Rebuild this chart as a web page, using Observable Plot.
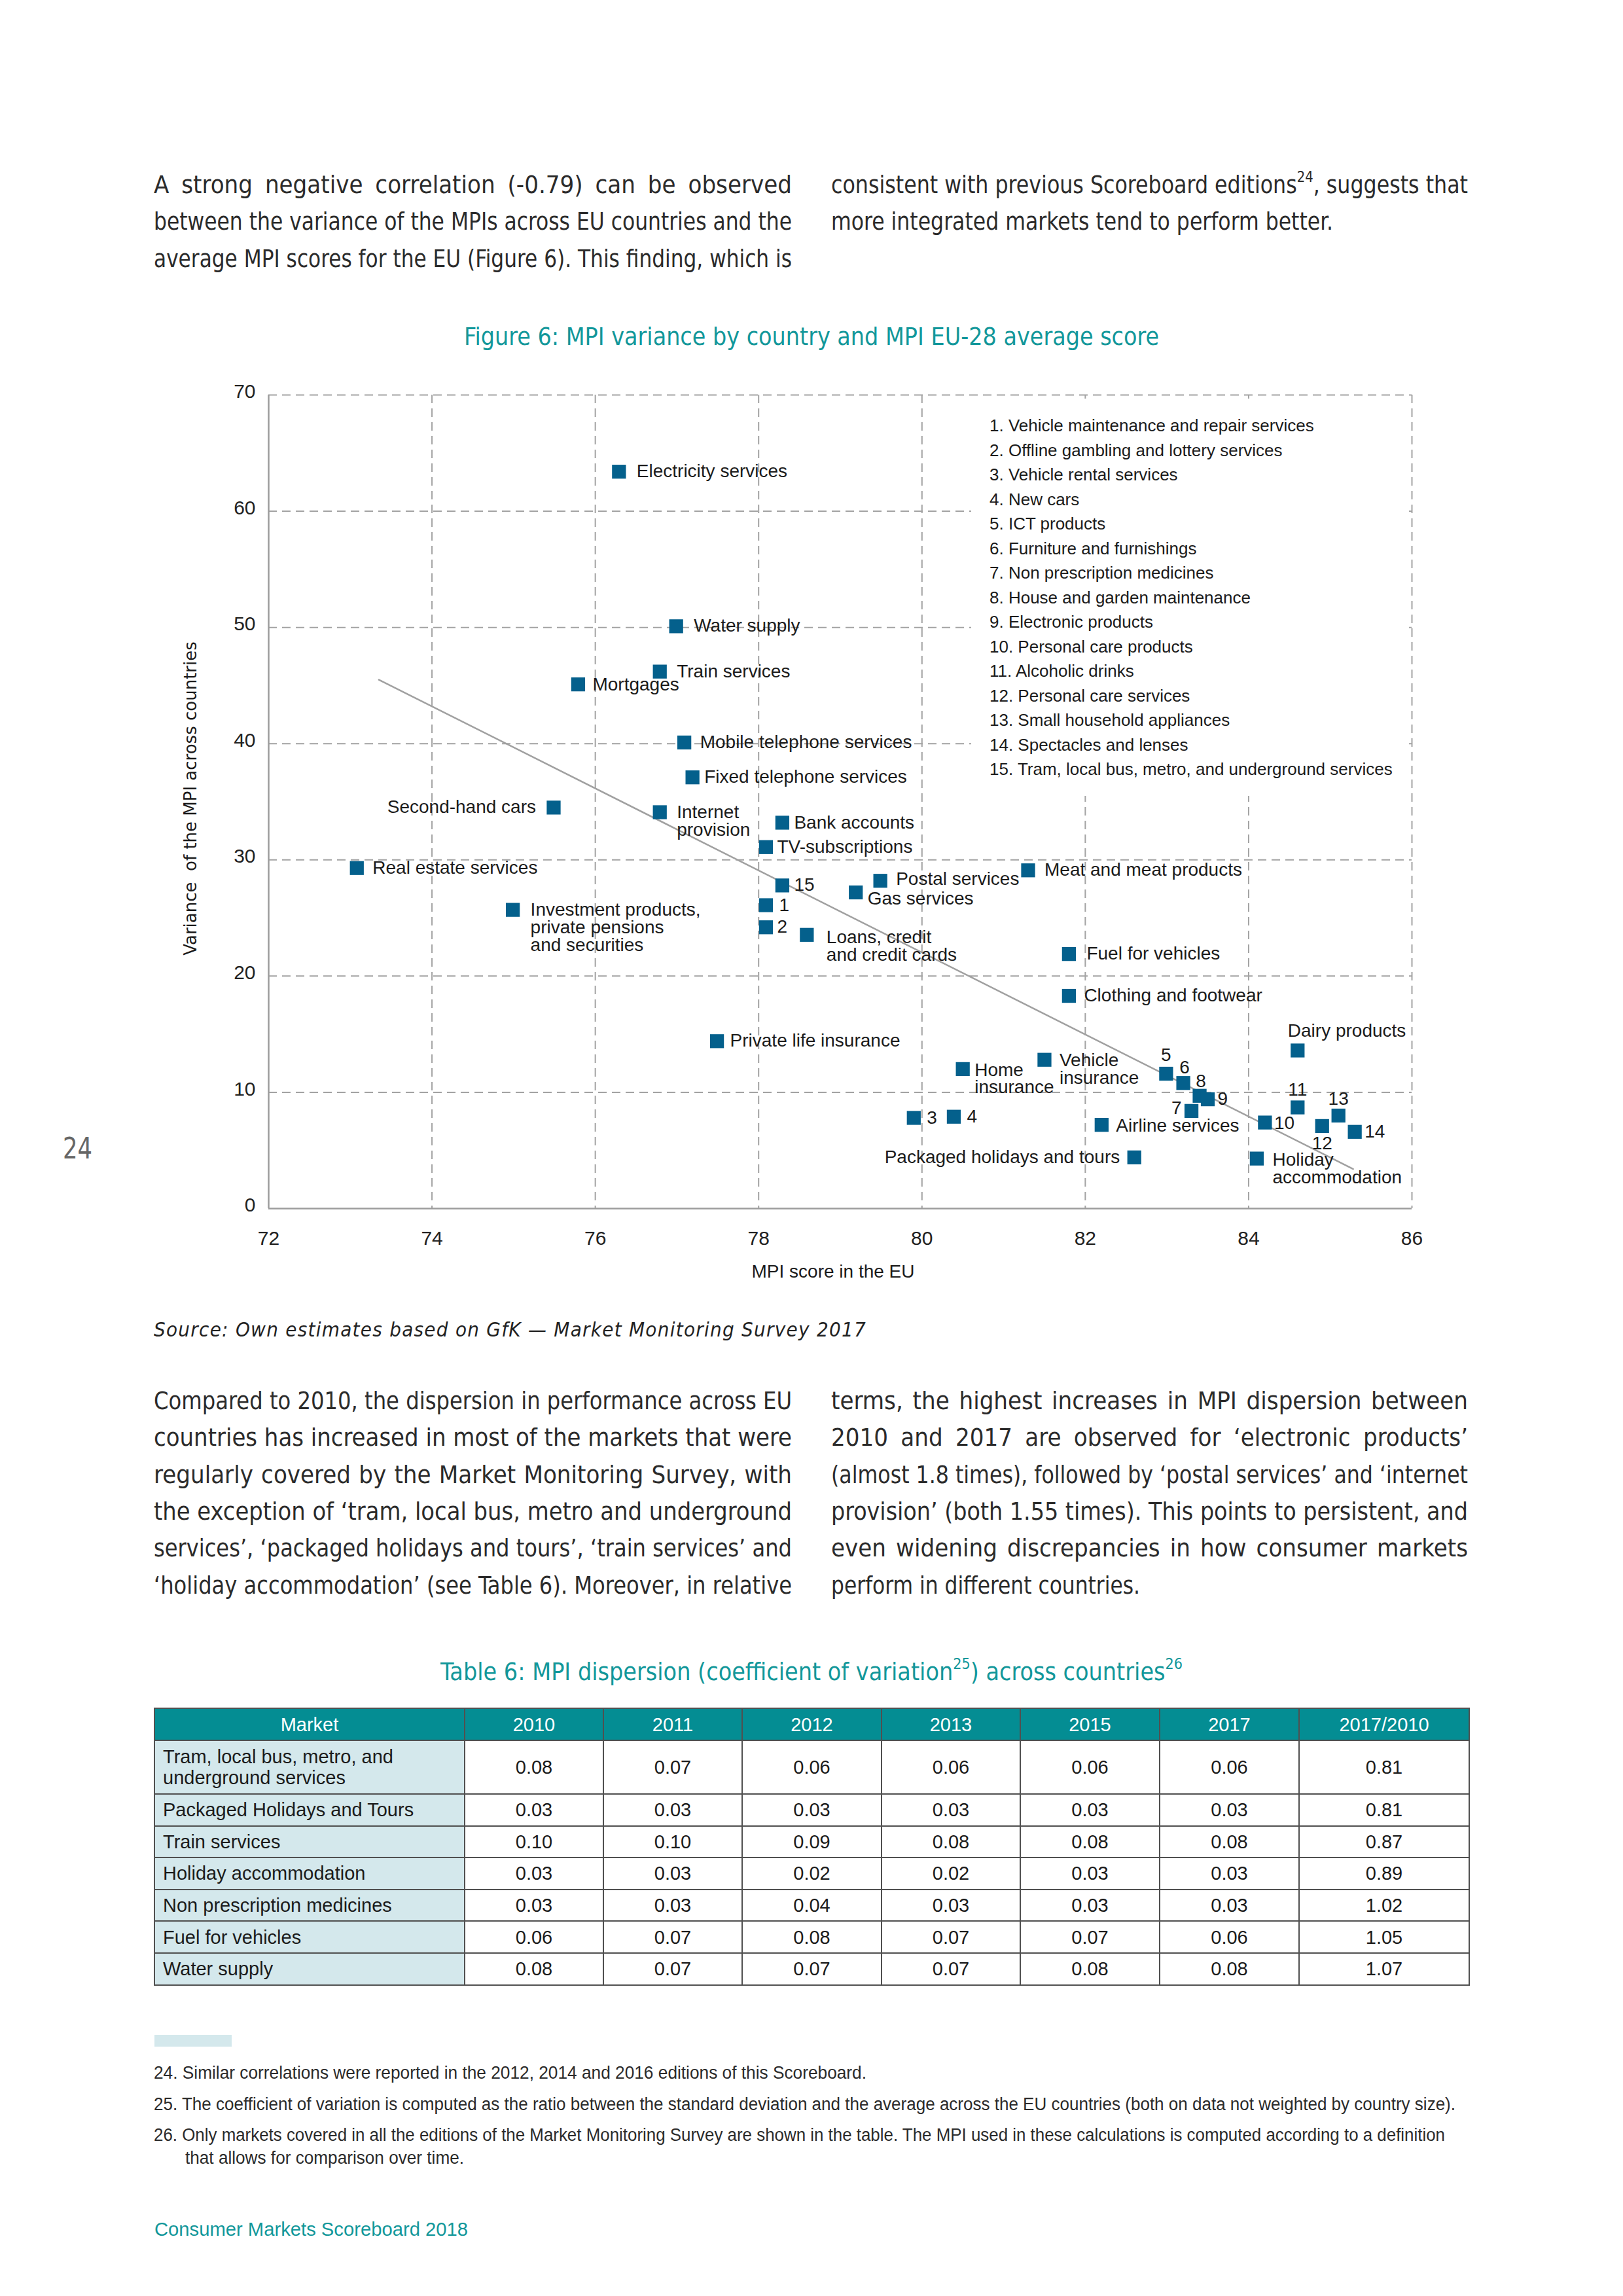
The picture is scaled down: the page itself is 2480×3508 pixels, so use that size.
<!DOCTYPE html>
<html><head><meta charset="utf-8">
<script src="https://cdn.jsdelivr.net/npm/d3@7"></script>
<script src="https://cdn.jsdelivr.net/npm/@observablehq/plot@0.6"></script>
<style>
html,body{margin:0;padding:0;background:#fff;}
#page{position:relative;width:2480px;height:3508px;overflow:hidden;background:#fff;
  font-family:"Liberation Sans Narrow","DejaVu Sans Condensed","Liberation Sans",sans-serif;color:#2b2b2b;}
.ln{position:absolute;white-space:nowrap;line-height:1;transform-origin:0 0;}
sup{font-size:0.62em;vertical-align:0;position:relative;top:-0.72em;line-height:0;}
#chart{position:absolute;left:0;top:560px;width:2480px;z-index:1;}
#legend{position:absolute;left:1484px;top:609px;width:669px;height:607px;background:#fff;z-index:2;
  font-family:"Liberation Sans",Arial,sans-serif;font-size:26px;line-height:37.5px;color:#1b1b1b;
  box-sizing:border-box;padding:23px 0 0 28px;}
#legend div{white-space:nowrap;}
#tbl{position:absolute;left:235px;top:2609px;border-collapse:collapse;table-layout:fixed;
  font-family:"Liberation Sans",Arial,sans-serif;font-size:29px;color:#1b1b1b;z-index:1;}
#tbl th,#tbl td{border:2px solid #505050;padding:0 12px;text-align:center;vertical-align:middle;line-height:32px;}
#tbl th{background:#048d93;color:#fff;font-weight:normal;}
#tbl td.m{background:#d4e8ec;text-align:left;}
#bar{position:absolute;left:236px;top:3109px;width:118px;height:18px;background:#d4e8ec;}
</style></head>
<body><div id="page"><div id="chart"></div><div id="legend"></div></div>
<script>
// ---------------- DATA ----------------
const xTicks = [72, 74, 76, 78, 80, 82, 84, 86];
const yTicks = [0, 10, 20, 30, 40, 50, 60, 70];

const marketNames = ["Electricity services","Water supply","Train services","Mortgages","Mobile telephone services",
  "Fixed telephone services","Second-hand cars","Internet provision","Bank accounts","TV-subscriptions",
  "Real estate services","Investment products, private pensions and securities","Postal services","Gas services",
  "Meat and meat products","Loans, credit and credit cards","Fuel for vehicles","Clothing and footwear",
  "Private life insurance","Dairy products","Home insurance","Vehicle insurance","Airline services",
  "Packaged holidays and tours","Holiday accommodation"];
const namedLabels = ["Electricity services","Water supply","Train services","Mortgages","Mobile telephone services",
  "Fixed telephone services","Second-hand cars","Internet\nprovision","Bank accounts","TV-subscriptions",
  "Real estate services","Investment products,\nprivate pensions\nand securities","Postal services","Gas services",
  "Meat and meat products","Loans, credit\nand credit cards","Fuel for vehicles","Clothing and footwear",
  "Private life insurance","Dairy products","Home\ninsurance","Vehicle\ninsurance","Airline services",
  "Packaged holidays and tours","Holiday\naccommodation"];
const mpiNamed = [76.29, 76.99, 76.79, 75.79, 77.09, 77.19, 75.49, 76.79, 78.29, 78.09, 73.08, 74.99, 79.49, 79.19,
  81.30, 78.59, 81.80, 81.80, 77.49, 84.60, 80.50, 81.50, 82.20, 82.60, 84.10];
const varNamed = [63.4, 50.1, 46.2, 45.1, 40.1, 37.1, 34.5, 34.1, 33.2, 31.1, 29.3, 25.7, 28.2, 27.2,
  29.1, 23.55, 21.9, 18.3, 14.4, 13.6, 12.0, 12.8, 7.2, 4.4, 4.3];

const numberedNames = ["Vehicle maintenance and repair services","Offline gambling and lottery services",
  "Vehicle rental services","New cars","ICT products","Furniture and furnishings","Non prescription medicines",
  "House and garden maintenance","Electronic products","Personal care products","Alcoholic drinks",
  "Personal care services","Small household appliances","Spectacles and lenses",
  "Tram, local bus, metro, and underground services"];
const mpiNumbered = [78.09, 78.09, 79.90, 80.39, 82.99, 83.20, 83.30, 83.40, 83.50, 84.20, 84.60, 84.90, 85.10, 85.30, 78.29];
const varNumbered = [26.1, 24.2, 7.8, 7.9, 11.6, 10.8, 8.4, 9.7, 9.4, 7.4, 8.7, 7.1, 8.0, 6.6, 27.8];

const trendMpi = [73.35, 85.28];
const trendVar = [45.5, 3.4];

const tableMarkets = ["Tram, local bus, metro, and underground services","Packaged Holidays and Tours","Train services",
  "Holiday accommodation","Non prescription medicines","Fuel for vehicles","Water supply"];
const tableYears = ["2010","2011","2012","2013","2015","2017","2017/2010"];
const v2010 = [0.08, 0.03, 0.10, 0.03, 0.03, 0.06, 0.08];
const v2011 = [0.07, 0.03, 0.10, 0.03, 0.03, 0.07, 0.07];
const v2012 = [0.06, 0.03, 0.09, 0.02, 0.04, 0.08, 0.07];
const v2013 = [0.06, 0.03, 0.08, 0.02, 0.03, 0.07, 0.07];
const v2015 = [0.06, 0.03, 0.08, 0.03, 0.03, 0.07, 0.08];
const v2017 = [0.06, 0.03, 0.08, 0.03, 0.03, 0.06, 0.08];
const ratio = [0.81, 0.81, 0.87, 0.89, 1.02, 1.05, 1.07];

// ---------------- label placement (style) ----------------
const placement = {
  "Electricity services":["start",27,0], "Water supply":["start",27,0], "Train services":["start",26,0],
  "Mortgages":["start",22,1], "Mobile telephone services":["start",24,0], "Fixed telephone services":["start",18,0],
  "Second-hand cars":["end",-27,0], "Internet\nprovision":["start",26,13.5], "Bank accounts":["start",18,0],
  "TV-subscriptions":["start",17,0], "Real estate services":["start",24,0],
  "Investment products,\nprivate pensions\nand securities":["start",27,27], "Postal services":["start",24,-2],
  "Gas services":["start",18,10], "Meat and meat products":["start",25,0], "Loans, credit\nand credit cards":["start",30,18],
  "Fuel for vehicles":["start",27,0], "Clothing and footwear":["start",23,0], "Private life insurance":["start",20,0],
  "Dairy products":["start",-15,-30], "Home\ninsurance":["start",18,15], "Vehicle\ninsurance":["start",23,15],
  "Airline services":["start",22,2], "Packaged holidays and tours":["end",-22,0], "Holiday\naccommodation":["start",24,16],
  "1":["start",20,0], "2":["start",17,0], "3":["start",20,0], "4":["start",20,0], "5":["middle",0,-28],
  "6":["middle",2,-23], "7":["end",-15,-4], "8":["middle",2,-22], "9":["start",15,0], "10":["start",14,1],
  "11":["middle",0,-27], "12":["middle",0,27], "13":["middle",0,-25], "14":["start",15,0], "15":["start",18,0]
};

// ---------------- CHART ----------------
const points = [
  ...marketNames.map((m, i) => ({name: m, label: namedLabels[i], x: mpiNamed[i], y: varNamed[i]})),
  ...numberedNames.map((m, i) => ({name: m, label: String(i + 1), x: mpiNumbered[i], y: varNumbered[i]}))
];
const trend = trendMpi.map((x, i) => ({x, y: trendVar[i]}));
const ink = "#1b1b1b";
const gridStyle = {stroke: "#a3a3a3", strokeWidth: 2, strokeDasharray: "13,8"};

const labelMarks = points.map(p => {
  const [a, dx, dy] = placement[p.label] || ["start", 20, 0];
  return Plot.text([p], {x: "x", y: "y", text: "label", textAnchor: a, dx, dy, fontSize: 28, lineHeight: 0.96, fill: ink});
});

const chart = Plot.plot({
  width: 2480, height: 1420,
  marginLeft: 410, marginRight: 323, marginTop: 43, marginBottom: 134,
  x: {domain: [xTicks[0], xTicks[xTicks.length - 1]]},
  y: {domain: [yTicks[0], yTicks[yTicks.length - 1]]},
  style: {fontFamily: "'Liberation Sans', Arial, sans-serif", fontSize: "28px", background: "transparent", color: ink, overflow: "visible"},
  marks: [
    Plot.ruleY(yTicks.slice(1), gridStyle),
    Plot.ruleX(xTicks.slice(1), gridStyle),
    Plot.ruleX(xTicks.slice(0, 1), {stroke: "#9c9c9c", strokeWidth: 2.5}),
    Plot.ruleY(yTicks.slice(0, 1), {stroke: "#9c9c9c", strokeWidth: 2.5}),
    Plot.line(trend, {x: "x", y: "y", stroke: "#a0a0a0", strokeWidth: 2.5}),
    Plot.dot(points, {x: "x", y: "y", symbol: "square", r: 12, fill: "#04608c", stroke: "none"}),
    ...labelMarks,
    Plot.axisX(xTicks, {tickSize: 0, tickPadding: 34, fontSize: 30, label: null, fill: "#222", tickFormat: d => String(d)}),
    Plot.axisY(yTicks, {tickSize: 0, tickPadding: 20, fontSize: 30, label: null, fill: "#222", dy: -5, tickFormat: d => String(d)}),
    Plot.text(["MPI score in the EU"], {text: d => d, frameAnchor: "bottom", textAnchor: "middle", lineAnchor: "middle", dy: 97, dx: -11, fontSize: 28, fill: ink}),
    Plot.text(["Variance\u00a0 of the MPI across countries"], {text: d => d, frameAnchor: "left", textAnchor: "middle", lineAnchor: "middle", rotate: -90, dx: -119, dy: -5, fontSize: 26, fontFamily: "'DejaVu Sans', sans-serif", fill: ink})
  ]
});
document.getElementById("chart").appendChild(chart);

// legend box inside chart
const legend = document.getElementById("legend");
numberedNames.forEach((n, i) => {
  const d = document.createElement("div");
  d.textContent = `${i + 1}. ${n}`;
  legend.appendChild(d);
});

// ---------------- PAGE TEXT ----------------
const page = document.getElementById("page");
const fitList = [];
function line(html, o) {
  const d = document.createElement("div");
  d.className = "ln";
  d.innerHTML = html;
  d.style.fontSize = o.size + "px";
  d.style.left = o.x + "px";
  d.style.top = (o.base - 0.8465 * o.size) + "px";
  if (o.color) d.style.color = o.color;
  if (o.family) d.style.fontFamily = o.family;
  if (o.italic) d.style.fontStyle = "italic";
  page.appendChild(d);
  if (o.w) fitList.push([d, o.w, o.mode || "spread"]);
  return d;
}
const teal = "#12979a";

const p1L = ["A strong negative correlation (-0.79) can be observed",
  "between the variance of the MPIs across EU countries and the",
  "average MPI scores for the EU (Figure 6). This finding, which is"];
const p1R = ["consistent with previous Scoreboard editions<sup>24</sup>, suggests that",
  "more integrated markets tend to perform better."];
const p2L = ["Compared to 2010, the dispersion in performance across EU",
  "countries has increased in most of the markets that were",
  "regularly covered by the Market Monitoring Survey, with",
  "the exception of ‘tram, local bus, metro and underground",
  "services’, ‘packaged holidays and tours’, ‘train services’ and",
  "‘holiday accommodation’ (see Table 6). Moreover, in relative"];
const p2R = ["terms, the highest increases in MPI dispersion between",
  "2010 and 2017 are observed for ‘electronic products’",
  "(almost 1.8 times), followed by ‘postal services’ and ‘internet",
  "provision’ (both 1.55 times). This points to persistent, and",
  "even widening discrepancies in how consumer markets",
  "perform in different countries."];

const LH = 56.4;
p1L.forEach((t, i) => line(t, {x: 235, base: 295 + i * LH, size: 38, w: 975, mode: "justify"}));
p1R.forEach((t, i) => line(t, {x: 1270, base: 295 + i * LH, size: 38, w: i === 0 ? 973 : 767, mode: "justify"}));
p2L.forEach((t, i) => line(t, {x: 235, base: 2153 + i * LH, size: 38, w: 975, mode: "justify"}));
p2R.forEach((t, i) => line(t, {x: 1270, base: 2153 + i * LH, size: 38, w: i === 5 ? 472 : 973, mode: "justify"}));

line("Figure 6: MPI variance by country and MPI EU-28 average score", {x: 709, base: 527, size: 38, color: teal, w: 1062});
line("Source: Own estimates based on GfK — Market Monitoring Survey 2017", {x: 235, base: 2042, size: 31, italic: true, w: 1089, color: "#222"});
line("Table 6: MPI dispersion (coefficient of variation<sup>25</sup>) across countries<sup>26</sup>", {x: 673, base: 2567, size: 38, color: teal, w: 1134});
line("24", {x: 96, base: 1770, size: 44, color: "#666", w: 45});

const fnFam = "'Liberation Sans', Arial, sans-serif";
line("24. Similar correlations were reported in the 2012, 2014 and 2016 editions of this Scoreboard.", {x: 235, base: 3177, size: 27, family: fnFam, w: 1089, color: "#2b2b2b"});
line("25. The coefficient of variation is computed as the ratio between the standard deviation and the average across the EU countries (both on data not weighted by country size).", {x: 235, base: 3225, size: 27, family: fnFam, w: 1989, color: "#2b2b2b"});
line("26. Only markets covered in all the editions of the Market Monitoring Survey are shown in the table. The MPI used in these calculations is computed according to a definition", {x: 235, base: 3272, size: 27, family: fnFam, w: 1973, color: "#2b2b2b"});
line("that allows for comparison over time.", {x: 283, base: 3307, size: 27, family: fnFam, w: 426, color: "#2b2b2b"});
line("Consumer Markets Scoreboard 2018", {x: 236, base: 3416, size: 30, family: fnFam, color: teal, w: 479});

const bar = document.createElement("div"); bar.id = "bar"; page.appendChild(bar);

// ---------------- TABLE ----------------
const colW = [474, 212, 212, 213, 212, 213, 213, 260];
const cols = [v2010, v2011, v2012, v2013, v2015, v2017, ratio];
let html = '<colgroup>' + colW.map(w => `<col style="width:${w}px">`).join("") + '</colgroup>';
html += '<tr style="height:49px"><th>Market</th>' + tableYears.map(y => `<th>${y}</th>`).join("") + '</tr>';
tableMarkets.forEach((m, i) => {
  html += `<tr style="height:${i === 0 ? 82 : 48.6}px"><td class="m">${m}</td>` +
    cols.map(c => `<td>${c[i].toFixed(2)}</td>`).join("") + '</tr>';
});
const tbl = document.createElement("table");
tbl.id = "tbl"; tbl.style.width = "2009px"; tbl.innerHTML = html;
page.appendChild(tbl);

// ---------------- width fitting ----------------
function fitAll() {
  for (const [d, w, mode] of fitList) {
    d.style.wordSpacing = ""; d.style.letterSpacing = ""; d.style.transform = "";
    const nat = d.getBoundingClientRect().width;
    if (nat > w) { d.style.transform = `scaleX(${w / nat})`; continue; }
    const txt = d.textContent;
    if (mode === "justify") {
      const n = (txt.match(/ /g) || []).length;
      if (n) d.style.wordSpacing = ((w - nat) / n) + "px";
    } else {
      d.style.letterSpacing = ((w - nat) / txt.length) + "px";
    }
  }
}
fitAll();
if (document.fonts && document.fonts.ready) document.fonts.ready.then(fitAll);
</script>
</body></html>
